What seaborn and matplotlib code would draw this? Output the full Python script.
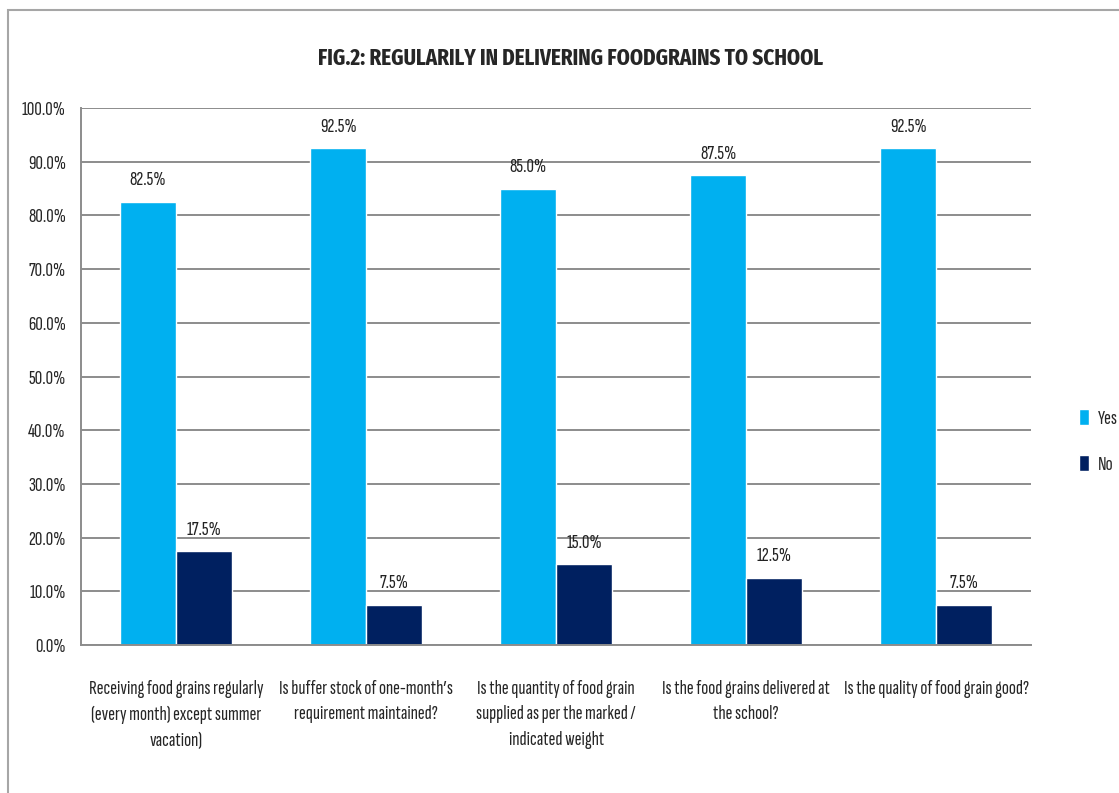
import pandas as pd
import seaborn as sns
import matplotlib.pyplot as plt
from matplotlib.patches import Rectangle, Patch
from matplotlib.ticker import PercentFormatter

# chart values
questions = [
    "Receiving food grains regularly\n(every month) except summer\nvacation)",
    "Is buffer stock of one-month\u2019s\nrequirement maintained?",
    "Is the quantity of food grain\nsupplied as per the marked /\nindicated weight",
    "Is the food grains delivered at\nthe school?",
    "Is the quality of food grain good?",
]
yes_pct = [82.5, 92.5, 85.0, 87.5, 92.5]
no_pct = [17.5, 7.5, 15.0, 12.5, 7.5]
series = ["Yes", "No"]
colors = ["#00B0F0", "#002060"]

df = pd.DataFrame({
    "question": questions * 2,
    "answer": ["Yes"] * len(questions) + ["No"] * len(questions),
    "pct": yes_pct + no_pct,
})

sns.set_style("white")
plt.rcParams["font.family"] = ["Sofia Sans Extra Condensed", "PT Sans Narrow", "DejaVu Sans"]

fig = plt.figure(figsize=(11.19, 7.93), dpi=100)
ax = fig.add_axes([0.0725, 0.1866, 0.849, 0.6772])

sns.barplot(data=df, x="question", y="pct", hue="answer", hue_order=series,
            palette=colors, width=0.59, gap=0, saturation=1, ax=ax,
            legend=False, errorbar=None)

for cont in ax.containers:
    ax.bar_label(cont, fmt="%.1f%%", padding=9, fontsize=15, color="#222222")

ax.set_ylim(0, 100)
ax.set_yticks(range(0, 101, 10))
ax.yaxis.set_major_formatter(PercentFormatter(decimals=1))
ax.set_xlabel("")
ax.set_ylabel("")
ax.grid(axis="y", color="#8c8c8c", linewidth=1.4)
ax.set_axisbelow(True)
for side in ["top", "right"]:
    ax.spines[side].set_visible(False)
for side in ["left", "bottom"]:
    ax.spines[side].set_color("#8c8c8c")
    ax.spines[side].set_linewidth(1.4)
ax.tick_params(axis="y", length=4, color="#8c8c8c", labelsize=15, pad=7)
ax.tick_params(axis="x", length=0, labelsize=15, pad=25)
for lbl in ax.get_xticklabels():
    lbl.set_linespacing(1.55)

fig.text(0.51, 0.927, "FIG.2: REGULARILY IN DELIVERING FOODGRAINS TO SCHOOL",
         ha="center", va="center", fontsize=16.5, fontweight="bold",
         family=["Fira Sans Extra Condensed", "PT Sans Narrow", "DejaVu Sans"])

handles = [Patch(facecolor=c, label=s) for s, c in zip(series, colors)]
fig.legend(handles=handles, loc="center left", bbox_to_anchor=(0.955, 0.443),
           frameon=False, fontsize=15, handlelength=0.5, handleheight=0.8,
           handletextpad=0.4, labelspacing=1.3, borderpad=0)

# chart-area border
fig.patches.append(Rectangle((8 / 1119, -0.1), 1.2, 1.1 - 10 / 793,
                             transform=fig.transFigure, fill=False,
                             edgecolor="#a6a6a6", linewidth=1.5))

fig.savefig("out.png", dpi=100)
